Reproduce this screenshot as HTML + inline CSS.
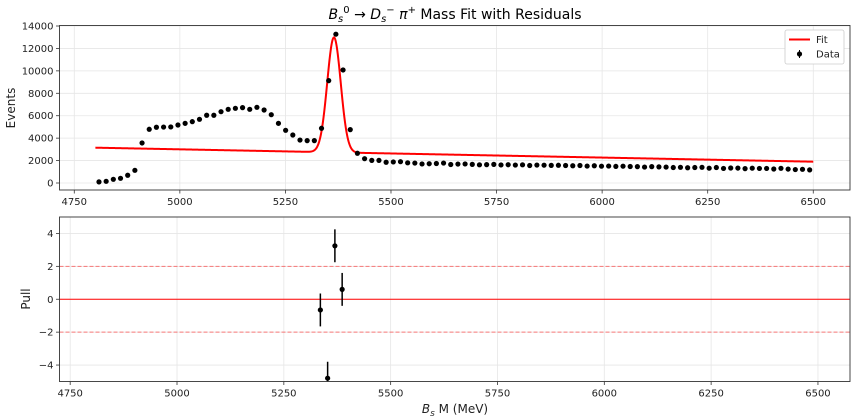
<!DOCTYPE html>
<html><head><meta charset="utf-8"><style>
html,body{margin:0;padding:0;background:#fff;}
svg{display:block;font-family:"DejaVu Sans","Liberation Sans",sans-serif;}
</style></head><body>
<svg id="chart" width="851" height="418" viewBox="0 0 851 418" xmlns="http://www.w3.org/2000/svg">
<text x="455" y="19" font-size="14" text-anchor="middle" fill="#000"><tspan font-style="italic">B</tspan><tspan font-size="10" dy="3" font-style="italic">s</tspan><tspan font-size="10" dy="-9">0</tspan><tspan dy="6"> → </tspan><tspan font-style="italic">D</tspan><tspan font-size="10" dy="3" font-style="italic">s</tspan><tspan font-size="10" dy="-9">−</tspan><tspan dy="6"> </tspan><tspan font-style="italic">π</tspan><tspan font-size="10" dy="-6">+</tspan><tspan dy="6">  Mass Fit with Residuals</tspan></text>
<g id="top"></g>
<g id="bottom"></g>
</svg>
<script>
const massBins = [];
for (let k = 0; k < 100; k++) massBins.push(4808.5 + 17 * k);
const counts = [100,150,330,420,690,1130,3570,4790,4970,4990,5000,5170,5320,5470,5680,6040,6040,6360,6570,6660,6720,6570,6750,6510,6090,5320,4700,4280,3830,3780,3780,4880,9130,13270,10080,4760,2650,2170,2020,2020,1850,1880,
1900,1800,1780,1700,1720,1740,1780,1650,1690,1700,1660,1620,1640,1660,1610,1630,1600,1620,1560,1600,1590,1570,1580,1560,1540,1560,1510,1540,1500,1510,1480,1500,1470,1460,1420,1460,1440,1420,1380,1400,1360,1380,1400,1320,1380,1300,1340,1330,1280,1320,1300,1300,1250,1310,1240,1200,1220,1170,1160,1150,1140,1130,1100,1080];
const fitRange = [4800, 6500];
const fitBackground = [3150, 1900];   // background at fitRange ends
const fitPeak = [5365, 16, 10250];    // mean, sigma, amplitude
const pullMass = [5335.5, 5352.5, 5369.5, 5386.5];
const pullValues = [-0.65, -4.8, 3.25, 0.6];
const pullErrors = [1, 1, 1, 1];
const topYTicks = [0,2000,4000,6000,8000,10000,12000,14000];
const xTicks = [4750,5000,5250,5500,5750,6000,6250,6500];
const pullTicks = [-4,-2,0,2,4];

const NS = "http://www.w3.org/2000/svg";
function mk(parent, tag, attrs, text) {
  const e = document.createElementNS(NS, tag);
  for (const k in attrs) e.setAttribute(k, attrs[k]);
  if (text !== undefined) e.textContent = text;
  parent.appendChild(e);
  return e;
}
const T = {l:59.5, r:850, t:25.5, b:190, x0:4715, x1:6587, y0:-624, y1:14045};
const B = {l:59.5, r:850, t:217, b:381.5, x0:4725, x1:6575, y0:-5, y1:5};
const sx = (A, v) => A.l + (v - A.x0) / (A.x1 - A.x0) * (A.r - A.l);
const sy = (A, v) => A.b - (v - A.y0) / (A.y1 - A.y0) * (A.b - A.t);
function fitFn(m) {
  const bg = fitBackground[0] + (fitBackground[1] - fitBackground[0]) * (m - fitRange[0]) / (fitRange[1] - fitRange[0]);
  const z = (m - fitPeak[0]) / fitPeak[1];
  return bg + fitPeak[2] * Math.exp(-0.5 * z * z);
}

function axes(A, g, yTicks, yFmt, name) {
  xTicks.forEach(v => {
    const x = sx(A, v);
    const gl = mk(g, "line", {x1:x, x2:x, y1:A.t, y2:A.b, stroke:"#e6e6e6", "stroke-width":0.8});
    
    
    mk(g, "line", {x1:x, x2:x, y1:A.b, y2:A.b + 3.5, stroke:"#333", "stroke-width":0.8});
    const t = mk(g, "text", {x:x, y:A.b + 15, "font-size":10, "text-anchor":"middle", fill:"#222"}, String(v));
    
    
  });
  yTicks.forEach(v => {
    const y = sy(A, v);
    const gl = mk(g, "line", {x1:A.l, x2:A.r, y1:y, y2:y, stroke:"#e6e6e6", "stroke-width":0.8});
    
    
    mk(g, "line", {x1:A.l - 3.5, x2:A.l, y1:y, y2:y, stroke:"#333", "stroke-width":0.8});
    const t = mk(g, "text", {x:A.l - 6, y:y + 3.5, "font-size":10, "text-anchor":"end", fill:"#222"}, yFmt(v));
    
    
  });
}
function frame(A, g) {
  const f = mk(g, "rect", {x:A.l, y:A.t, width:A.r - A.l, height:A.b - A.t, fill:"none", stroke:"#333", "stroke-width":0.9});
  
  
}

// Top panel
const gt = document.getElementById("top");


axes(T, gt, topYTicks, v => String(v));
let d = "";
for (let m = fitRange[0]; m <= fitRange[1]; m += 1) d += (d ? "L" : "M") + sx(T, m).toFixed(2) + "," + sy(T, fitFn(m)).toFixed(2);
const fitLine = mk(gt, "path", {d:d, fill:"none", stroke:"#ff0000", "stroke-width":2});


massBins.forEach((m, i) => {
  const x = sx(T, m), c = counts[i], e = Math.sqrt(c);
  mk(gt, "line", {x1:x, x2:x, y1:sy(T, c - e), y2:sy(T, c + e), stroke:"#000", "stroke-width":1});
  const p = mk(gt, "circle", {cx:x, cy:sy(T, c), r:2.6, fill:"#000"});
  
  
});
frame(T, gt);
const yl = mk(gt, "text", {x:15, y:108, "font-size":12, "text-anchor":"middle", transform:"rotate(-90 15 108)", fill:"#222"}, "Events");


// legend
const lg = mk(gt, "g", {});


mk(lg, "rect", {x:785, y:30, width:59, height:34, rx:2, fill:"#fff", stroke:"#ccc", "stroke-width":0.8});
mk(lg, "line", {x1:789, x2:810, y1:39.5, y2:39.5, stroke:"#ff0000", "stroke-width":2});
mk(lg, "text", {x:816, y:43, "font-size":10, fill:"#222"}, "Fit");
mk(lg, "line", {x1:799.5, x2:799.5, y1:50, y2:58, stroke:"#000", "stroke-width":1});
mk(lg, "circle", {cx:799.5, cy:54, r:2.6, fill:"#000"});
mk(lg, "text", {x:816, y:57.5, "font-size":10, fill:"#222"}, "Data");

// Bottom panel
const gb = document.getElementById("bottom");


axes(B, gb, pullTicks, v => v < 0 ? "−" + Math.abs(v) : String(v));
[2, -2].forEach(v => {
  const l = mk(gb, "line", {x1:B.l, x2:B.r, y1:sy(B, v), y2:sy(B, v), stroke:"#ff0000", "stroke-opacity":0.5, "stroke-width":1, "stroke-dasharray":"4,2"});
  
  
});
const zl = mk(gb, "line", {x1:B.l, x2:B.r, y1:sy(B, 0), y2:sy(B, 0), stroke:"#ff0000", "stroke-width":1});


const clip = mk(gb, "clipPath", {id:"bclip"});
mk(clip, "rect", {x:B.l, y:B.t, width:B.r - B.l, height:B.b - B.t});
const pg = mk(gb, "g", {"clip-path":"url(#bclip)"});
pullMass.forEach((m, i) => {
  const x = sx(B, m), v = pullValues[i], e = pullErrors[i];
  mk(pg, "line", {x1:x, x2:x, y1:sy(B, v - e), y2:sy(B, v + e), stroke:"#000", "stroke-width":1.5});
  const p = mk(pg, "circle", {cx:x, cy:sy(B, v), r:2.6, fill:"#000"});
  
  
});
frame(B, gb);
const pl = mk(gb, "text", {x:30, y:299, "font-size":12, "text-anchor":"middle", transform:"rotate(-90 30 299)", fill:"#222"}, "Pull");


const xl = mk(gb, "text", {x:455, y:413, "font-size":12, "text-anchor":"middle", fill:"#222"});


mk(xl, "tspan", {"font-style":"italic"}, "B");
mk(xl, "tspan", {"font-style":"italic", "font-size":9, dy:3}, "s");
mk(xl, "tspan", {dy:-3}, " M (MeV)");
</script>
</body></html>
